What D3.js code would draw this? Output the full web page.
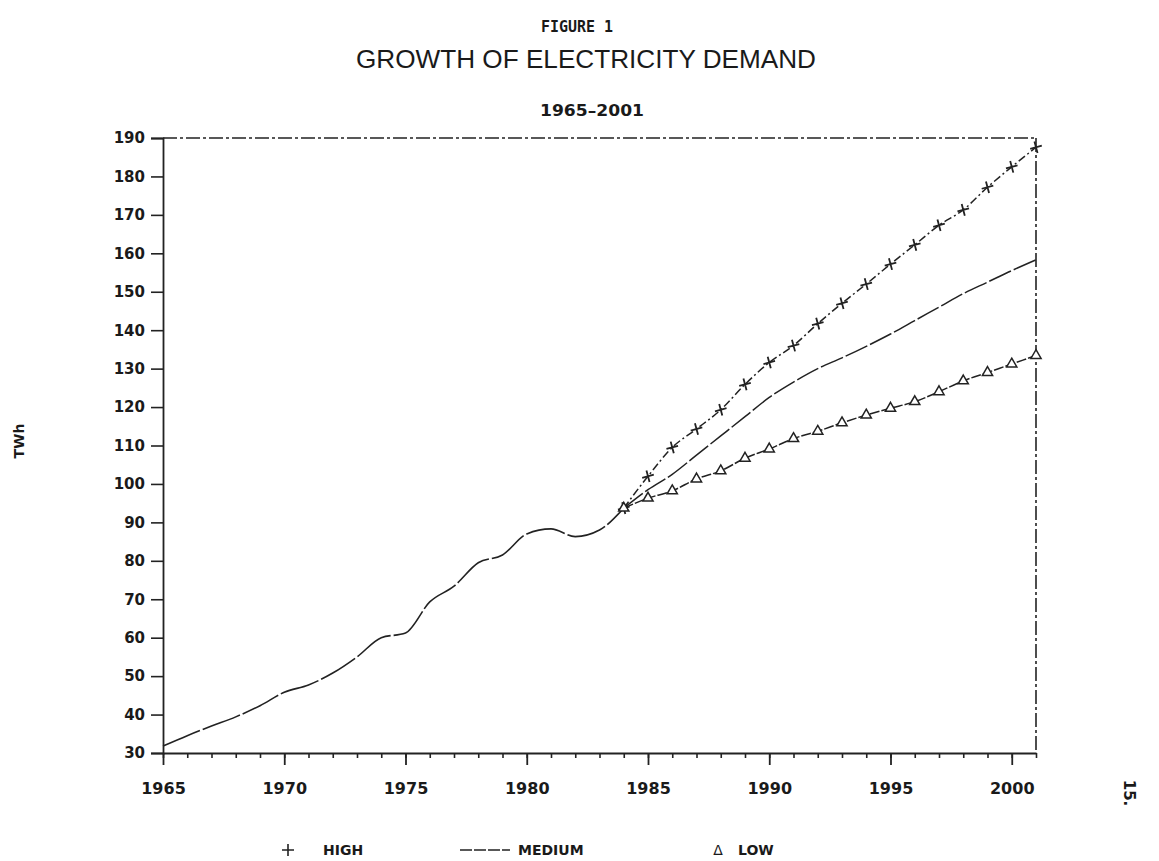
<!DOCTYPE html>
<html>
<head>
<meta charset="utf-8">
<script src="https://cdn.jsdelivr.net/npm/d3@7"></script>
<style>
  html, body { margin: 0; padding: 0; background: #fff; }
  svg { display: block; }
  text { fill: #1a1a1a; }
</style>
</head>
<body>
<div id="chart"></div>
<script>
// historical demand (TWh)
const histYears = [1965, 1966, 1967, 1968, 1969, 1970, 1971, 1972, 1973, 1974,
                   1975, 1976, 1977, 1978, 1979, 1980, 1981, 1982, 1983, 1984];
const histValues = [31.8, 34.5, 37, 39.4, 42.3, 45.8, 47.7, 50.8, 55, 60,
                    61.2, 69.3, 73.4, 79.5, 81.5, 87, 88.3, 86.3, 88, 93.7];

// forecasts 1984-2001
const fcYears = [1984, 1985, 1986, 1987, 1988, 1989, 1990, 1991, 1992, 1993,
                 1994, 1995, 1996, 1997, 1998, 1999, 2000, 2001];
const highValues = [93.7, 102, 109.5, 114.3, 119.3, 125.9, 131.6, 136, 141.7, 147,
                    152, 157.2, 162.2, 167.3, 171.3, 177.2, 182.5, 187.6];
const mediumValues = [93.7, 98.5, 102.5, 107.5, 112.5, 117.5, 122.5, 126.5, 130, 132.8,
                      135.8, 139, 142.5, 146, 149.5, 152.5, 155.5, 158.3];
const lowValues = [93.7, 96.3, 98.2, 101.3, 103.4, 106.7, 109.1, 111.8, 113.7, 115.9,
                   117.9, 119.7, 121.4, 124, 126.8, 129, 131.2, 133.4];

const yTicks = [30, 40, 50, 60, 70, 80, 90, 100, 110, 120, 130, 140, 150, 160, 170, 180, 190];
const xTicks = [1965, 1970, 1975, 1980, 1985, 1990, 1995, 2000];

const W = 1159, H = 861;
const margin = {left: 163, top: 138, right: 123, bottom: 108};
const width = W - margin.left - margin.right;
const height = H - margin.top - margin.bottom;
const ink = "#222";

const svg = d3.select("#chart").append("svg")
  .attr("width", W)
  .attr("height", H);

// titles
svg.append("text")
  .attr("x", 577).attr("y", 32)
  .attr("text-anchor", "middle")
  .attr("textLength", 72)
  .attr("lengthAdjust", "spacingAndGlyphs")
  .style("font-family", "'DejaVu Sans Mono', monospace")
  .style("font-size", "16px")
  .style("font-weight", "bold")
  .text("FIGURE 1");

svg.append("text")
  .attr("x", 586).attr("y", 68)
  .attr("text-anchor", "middle")
  .attr("textLength", 460)
  .attr("lengthAdjust", "spacingAndGlyphs")
  .style("font-family", "'Liberation Sans', Arial, sans-serif")
  .style("font-size", "25px")
  .text("GROWTH OF ELECTRICITY DEMAND");

svg.append("text")
  .attr("x", 592).attr("y", 116)
  .attr("text-anchor", "middle")
  .attr("textLength", 104)
  .attr("lengthAdjust", "spacingAndGlyphs")
  .style("font-family", "'DejaVu Sans', sans-serif")
  .style("font-size", "16px")
  .style("font-weight", "bold")
  .text("1965–2001");

const g = svg.append("g")
  .attr("transform", `translate(${margin.left},${margin.top})`);

const x = d3.scaleLinear().domain([1965, 2001]).range([0, width]);
const y = d3.scaleLinear().domain([30, 190]).range([height, 0]);

// frame: top and right edges dashed like the plotter
g.append("line")
  .attr("x1", 0).attr("x2", width).attr("y1", 0).attr("y2", 0)
  .attr("stroke", ink).attr("stroke-width", 1.6)
  .attr("stroke-dasharray", "14,3,3,3");
g.append("line")
  .attr("x1", width).attr("x2", width).attr("y1", 0).attr("y2", height)
  .attr("stroke", ink).attr("stroke-width", 1.6)
  .attr("stroke-dasharray", "14,3,3,3");

// y axis
const yAxis = g.append("g")
  .call(d3.axisLeft(y).tickValues(yTicks).tickSize(12).tickPadding(6).tickFormat(d3.format("d")));
yAxis.select(".domain").attr("stroke", ink).attr("stroke-width", 1.8);
yAxis.selectAll(".tick line").attr("stroke", ink).attr("stroke-width", 1.6);
yAxis.selectAll(".tick text")
  .style("font-family", "'DejaVu Sans', sans-serif")
  .style("font-size", "15px")
  .style("font-weight", "bold")
  .attr("fill", "#1a1a1a");

// x axis: yearly minor ticks, major every five years
const years = d3.range(1965, 2002);
const xMinor = g.append("g")
  .attr("transform", `translate(0,${height})`)
  .call(d3.axisBottom(x).tickValues(years).tickSize(5).tickFormat(""));
xMinor.select(".domain").remove();
xMinor.selectAll(".tick line").attr("stroke", ink).attr("stroke-width", 1.6);

const xAxis = g.append("g")
  .attr("transform", `translate(0,${height})`)
  .call(d3.axisBottom(x).tickValues(xTicks).tickSize(12).tickSizeOuter(0).tickPadding(18).tickFormat(d3.format("d")));
xAxis.select(".domain").attr("stroke", ink).attr("stroke-width", 1.8);
xAxis.selectAll(".tick line").attr("stroke", ink).attr("stroke-width", 1.8);
xAxis.selectAll(".tick text")
  .style("font-family", "'DejaVu Sans', sans-serif")
  .style("font-size", "16px")
  .style("font-weight", "bold")
  .attr("fill", "#1a1a1a");

// axis title
svg.append("text")
  .attr("transform", "translate(24,441) rotate(-90)")
  .attr("text-anchor", "middle")
  .style("font-family", "'DejaVu Sans', sans-serif")
  .style("font-size", "14px")
  .style("font-weight", "bold")
  .text("TWh");

// lines
const line = d3.line()
  .x(d => x(d[0]))
  .y(d => y(d[1]))
  .curve(d3.curveMonotoneX);

const hist = histYears.map((yr, i) => [yr, histValues[i]]);
const high = fcYears.map((yr, i) => [yr, highValues[i]]);
const medium = fcYears.map((yr, i) => [yr, mediumValues[i]]);
const low = fcYears.map((yr, i) => [yr, lowValues[i]]);

g.append("path").datum(hist)
  .attr("d", line).attr("fill", "none")
  .attr("stroke", ink).attr("stroke-width", 1.6)
  .attr("stroke-dasharray", "40,3");

g.append("path").datum(high)
  .attr("d", line).attr("fill", "none")
  .attr("stroke", ink).attr("stroke-width", 1.5)
  .attr("stroke-dasharray", "8,3,2,3");

g.append("path").datum(medium)
  .attr("d", line).attr("fill", "none")
  .attr("stroke", ink).attr("stroke-width", 1.5)
  .attr("stroke-dasharray", "24,3");

g.append("path").datum(low)
  .attr("d", line).attr("fill", "none")
  .attr("stroke", ink).attr("stroke-width", 1.5)
  .attr("stroke-dasharray", "10,2");

// high markers (+)
g.selectAll(".hi-mark")
  .data(high)
  .enter()
  .append("path")
  .attr("class", "hi-mark")
  .attr("transform", d => `translate(${x(d[0])},${y(d[1])}) rotate(-15)`)
  .attr("d", "M-6,0H6M0,-6V6")
  .attr("stroke", ink)
  .attr("stroke-width", 1.8)
  .attr("fill", "none");

// low markers (triangles)
const tri = d3.symbol().type(d3.symbolTriangle).size(45);
g.selectAll(".lo-mark")
  .data(low)
  .enter()
  .append("path")
  .attr("class", "lo-mark")
  .attr("transform", d => `translate(${x(d[0])},${y(d[1])})`)
  .attr("d", tri)
  .attr("fill", "#fff")
  .attr("stroke", ink)
  .attr("stroke-width", 1.5);

// legend
const legendY = 855;
const legendFont = "'DejaVu Sans', sans-serif";
svg.append("path")
  .attr("d", "M282,850H294M288,844V856")
  .attr("stroke", ink).attr("stroke-width", 1.6);
svg.append("text").attr("x", 323).attr("y", legendY)
  .style("font-family", legendFont).style("font-size", "14px").style("font-weight", "bold")
  .text("HIGH");

svg.append("line")
  .attr("x1", 460).attr("x2", 510).attr("y1", 850).attr("y2", 850)
  .attr("stroke", ink).attr("stroke-width", 1.5)
  .attr("stroke-dasharray", "12,2");
svg.append("text").attr("x", 518).attr("y", legendY)
  .style("font-family", legendFont).style("font-size", "14px").style("font-weight", "bold")
  .text("MEDIUM");

svg.append("text").attr("x", 718).attr("y", legendY)
  .attr("text-anchor", "middle")
  .style("font-family", legendFont).style("font-size", "14px")
  .text("Δ");
svg.append("text").attr("x", 738).attr("y", legendY)
  .style("font-family", legendFont).style("font-size", "14px").style("font-weight", "bold")
  .text("LOW");

// page number, sideways
svg.append("text")
  .attr("transform", "translate(1124,793) rotate(90)")
  .attr("text-anchor", "middle")
  .style("font-family", legendFont)
  .style("font-size", "15px")
  .style("font-weight", "bold")
  .text("15.");
</script>
</body>
</html>
